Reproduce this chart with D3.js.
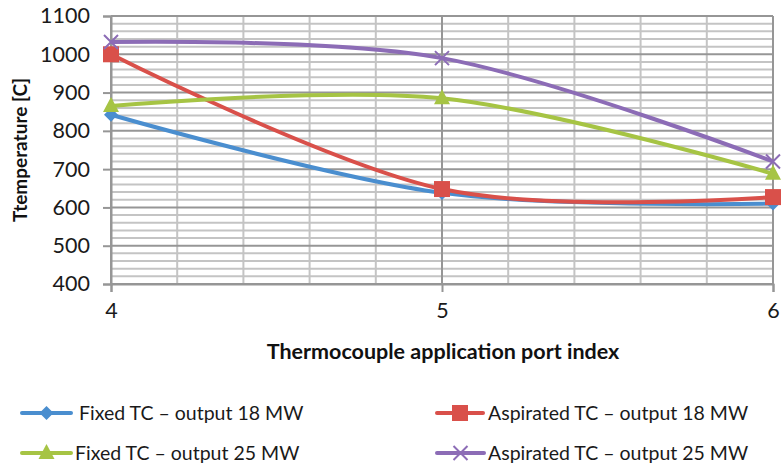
<!DOCTYPE html>
<html>
<head>
<meta charset="utf-8">
<script src="https://cdn.jsdelivr.net/npm/d3@7"></script>
<style>
  html, body { margin: 0; padding: 0; background: #fff; }
  svg { display: block; font-family: Lato, "Open Sans", sans-serif; }
</style>
</head>
<body>
<svg id="chart" width="782" height="466"></svg>
<script>
// ---- data ----
const ports = [4, 5, 6];
const fixed18 = [842, 638, 610];
const aspirated18 = [1000, 648, 627];
const fixed25 = [865, 885, 688];
const aspirated25 = [1032, 990, 720];
const yTicks = [400, 500, 600, 700, 800, 900, 1000, 1100];
const xTicks = [4, 5, 6];
const seriesNames = [
  "Fixed TC – output 18 MW",
  "Aspirated TC – output 18 MW",
  "Fixed TC – output 25 MW",
  "Aspirated TC – output 25 MW"
];
const xTitle = "Thermocouple application port index";
const yTitle = "Ttemperature [C]";

(function () {
// ---- layout ----
const svg = d3.select("#chart");
const pLeft = 111, pRight = 773, pTop = 16, pBottom = 284;
const x = d3.scaleLinear().domain([4, 6]).range([pLeft, pRight]);
const y = d3.scaleLinear().domain([400, 1100]).range([pBottom, pTop]);

const colors = ["#4A8ECF", "#D9504A", "#A6C444", "#8C6CB6"];
const markers = ["diamond", "square", "triangle", "x"];
const data = [fixed18, aspirated18, fixed25, aspirated25];

// gridlines
const g = svg.append("g");
d3.range(400, 1101, 20).forEach(v => {
  if (v % 100 !== 0) g.append("line").attr("x1", pLeft).attr("x2", pRight)
    .attr("y1", y(v)).attr("y2", y(v)).attr("stroke", "#c4c4c4").attr("stroke-width", 2);
});
d3.range(4, 6.001, 0.2).forEach(v => {
  const r = Math.round(v * 10) / 10;
  if (Math.abs(r - Math.round(r)) > 0.01) g.append("line").attr("x1", x(r)).attr("x2", x(r))
    .attr("y1", pTop).attr("y2", pBottom).attr("stroke", "#c4c4c4").attr("stroke-width", 2);
});
yTicks.forEach(v => {
  g.append("line").attr("x1", pLeft).attr("x2", pRight)
    .attr("y1", y(v)).attr("y2", y(v)).attr("stroke", "#969696").attr("stroke-width", 2);
});
xTicks.forEach(v => {
  g.append("line").attr("x1", x(v)).attr("x2", x(v))
    .attr("y1", pTop).attr("y2", pBottom).attr("stroke", "#969696").attr("stroke-width", 2);
});

// axes
const yAxis = d3.axisLeft(y).tickValues(yTicks).tickSize(8).tickPadding(13).tickFormat(d3.format("d"));
const ya = svg.append("g").attr("transform", `translate(${pLeft},0)`).call(yAxis);
ya.select(".domain").attr("stroke", "#969696").attr("stroke-width", 2);
ya.selectAll(".tick line").attr("stroke", "#969696").attr("stroke-width", 2);
ya.selectAll(".tick text").attr("font-size", 21.5).attr("fill", "#1a1a1a").attr("font-family", "Lato, sans-serif");

const xAxis = d3.axisBottom(x).tickValues(xTicks).tickSize(8).tickPadding(11).tickFormat(d3.format("d"));
const xa = svg.append("g").attr("transform", `translate(0,${pBottom})`).call(xAxis);
xa.select(".domain").attr("stroke", "#969696").attr("stroke-width", 2);
xa.selectAll(".tick line").attr("stroke", "#969696").attr("stroke-width", 2);
xa.selectAll(".tick text").attr("font-size", 21.5).attr("fill", "#1a1a1a").attr("font-family", "Lato, sans-serif");

// titles
svg.append("text").attr("x", 443).attr("y", 359).attr("text-anchor", "middle")
  .attr("font-size", 21.5).attr("font-weight", "bold").attr("fill", "#111").text(xTitle);
svg.append("text").attr("transform", "translate(27,150) rotate(-90)").attr("text-anchor", "middle")
  .attr("font-size", 19).attr("font-weight", "bold").attr("fill", "#111").text(yTitle);

function drawMarker(sel, type, cx, cy, color) {
  if (type === "diamond") {
    sel.append("path").attr("d", `M${cx},${cy-7}L${cx+7},${cy}L${cx},${cy+7}L${cx-7},${cy}Z`).attr("fill", color);
  } else if (type === "square") {
    sel.append("rect").attr("x", cx - 8).attr("y", cy - 8).attr("width", 16).attr("height", 16).attr("fill", color);
  } else if (type === "triangle") {
    sel.append("path").attr("d", `M${cx},${cy-9}L${cx+8},${cy+6}L${cx-8},${cy+6}Z`).attr("fill", color);
  } else if (type === "x") {
    sel.append("path").attr("d", `M${cx-7},${cy-7}L${cx+7},${cy+7}M${cx+7},${cy-7}L${cx-7},${cy+7}`)
      .attr("stroke", color).attr("stroke-width", 2).attr("fill", "none");
  }
}

const line = d3.line().x((d, i) => x(ports[i])).y(d => y(d)).curve(d3.curveCardinal.tension(0));
data.forEach((vals, s) => {
  svg.append("path").datum(vals).attr("d", line).attr("fill", "none")
    .attr("stroke", colors[s]).attr("stroke-width", 4);
});
data.forEach((vals, s) => {
  const mg = svg.append("g");
  vals.forEach((v, i) => drawMarker(mg, markers[s], x(ports[i]), y(v), colors[s]));
});

// legend
const legendPos = [
  { lx: 22, lw: 49, tx: 79, ty: 413 },
  { lx: 437, lw: 46, tx: 488, ty: 413 },
  { lx: 22, lw: 49, tx: 75, ty: 453 },
  { lx: 437, lw: 47, tx: 488, ty: 453 }
];
seriesNames.forEach((name, s) => {
  const p = legendPos[s];
  const lg = svg.append("g");
  lg.append("line").attr("x1", p.lx).attr("x2", p.lx + p.lw).attr("y1", p.ty).attr("y2", p.ty)
    .attr("stroke", colors[s]).attr("stroke-width", 4).attr("stroke-linecap", "round");
  drawMarker(lg, markers[s], p.lx + p.lw / 2, p.ty, colors[s]);
  lg.append("text").attr("x", p.tx).attr("y", p.ty + 7).attr("font-size", 19.5).attr("fill", "#1a1a1a").text(name);
});
})();
</script>
</body>
</html>
